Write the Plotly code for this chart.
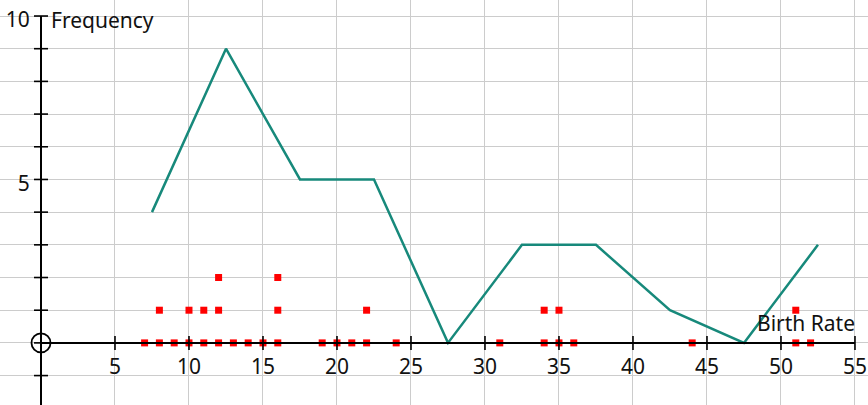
import plotly.graph_objects as go
from collections import defaultdict

# Data
birth_rates = [7, 8, 8, 9, 10, 10, 11, 11, 12, 12, 12, 13, 14, 15, 16, 16, 16,
               19, 20, 21, 22, 22, 24, 31, 34, 34, 35, 35, 36, 44, 51, 51, 52]
midpoints = [7.5, 12.5, 17.5, 22.5, 27.5, 32.5, 37.5, 42.5, 47.5, 52.5]
frequencies = [4, 9, 5, 5, 0, 3, 3, 1, 0, 3]
x_tick_vals = [5, 10, 15, 20, 25, 30, 35, 40, 45, 50, 55]
y_tick_vals = [5, 10]
y_minor_vals = [-1, 0, 1, 2, 3, 4, 5, 6, 7, 8, 9, 10]

XMIN, XMAX = -2.77, 55.88
YMIN, YMAX = -1.9, 10.49
FONT = "Noto Sans"
FS = 21
TXT = "#111111"

# stack dots
counts = defaultdict(int)
dot_x, dot_y = [], []
for v in birth_rates:
    dot_x.append(v)
    dot_y.append(counts[v])
    counts[v] += 1

fig = go.Figure()

fig.add_trace(go.Scatter(x=midpoints, y=frequencies, mode="lines",
                         line=dict(color="#17897b", width=2.5), hoverinfo="skip"))
fig.add_trace(go.Scatter(x=dot_x, y=dot_y, mode="markers",
                         marker=dict(symbol="square", size=7, color="#ff0000",
                                     line=dict(width=0)), hoverinfo="skip"))
# axis tick marks (crossing)
fig.add_trace(go.Scatter(x=x_tick_vals, y=[0] * len(x_tick_vals), mode="markers",
                         marker=dict(symbol="line-ns", size=10, color="black",
                                     line=dict(color="black", width=1.6)),
                         hoverinfo="skip"))
fig.add_trace(go.Scatter(x=[0] * len(y_minor_vals), y=y_minor_vals, mode="markers",
                         marker=dict(symbol="line-ew", size=10, color="black",
                                     line=dict(color="black", width=1.6)),
                         hoverinfo="skip"))
# origin circle
fig.add_trace(go.Scatter(x=[0], y=[0], mode="markers",
                         marker=dict(symbol="circle-open", size=19, color="black",
                                     line=dict(color="black", width=1.8)),
                         hoverinfo="skip"))

# axis lines
fig.add_shape(type="line", x0=0, x1=55, y0=0, y1=0, xref="x", yref="y",
              line=dict(color="black", width=2), layer="above")
fig.add_shape(type="line", x0=0, x1=0, y0=YMIN, y1=10, xref="x", yref="y",
              line=dict(color="black", width=2), layer="above")

fig.add_annotation(x=0, y=10, xref="x", yref="y", text="Frequency",
                   showarrow=False, xanchor="left", yanchor="middle",
                   xshift=8, yshift=-4, font=dict(family=FONT, size=FS, color=TXT))
fig.add_annotation(x=55, y=0.61, xref="x", yref="y", text="Birth Rate",
                   showarrow=False, xanchor="right", yanchor="middle",
                   xshift=2, font=dict(family=FONT, size=FS, color=TXT))

p_x = (0 - YMIN) / (YMAX - YMIN)
p_y = (0 - XMIN) / (XMAX - XMIN)

fig.update_layout(
    width=868, height=405,
    margin=dict(l=0, r=0, t=0, b=0),
    paper_bgcolor="white", plot_bgcolor="white",
    showlegend=False,
    xaxis=dict(range=[XMIN, XMAX], tickvals=x_tick_vals, showgrid=True,
               gridcolor="#cccccc", gridwidth=1, zeroline=False, showline=False,
               anchor="free", position=p_x, ticks="outside", ticklen=5,
               tickcolor="rgba(0,0,0,0)", tickfont=dict(family=FONT, size=FS, color=TXT)),
    yaxis=dict(range=[YMIN, YMAX], tickvals=y_tick_vals, showgrid=True,
               gridcolor="#cccccc", gridwidth=1, zeroline=False, showline=False,
               anchor="free", position=p_y, ticks="outside", ticklen=7,
               ticklabelshift=4,
               tickcolor="rgba(0,0,0,0)", tickfont=dict(family=FONT, size=FS, color=TXT),
               minor=dict(dtick=1, tick0=0, showgrid=True, gridcolor="#cccccc", gridwidth=1)),
)

fig.write_html("out.html", config={"displayModeBar": False},
               post_script="document.body.style.margin='0';document.body.style.overflow='hidden';")
